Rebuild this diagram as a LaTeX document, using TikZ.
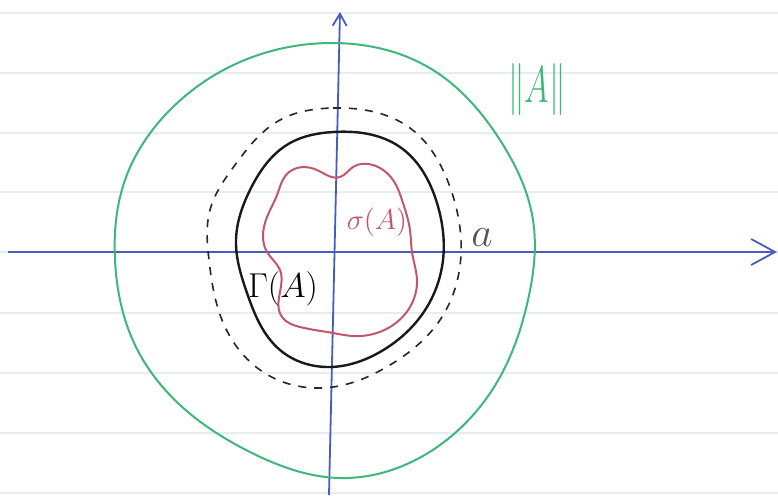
\documentclass[tikz,border=0pt]{standalone}
\usepackage{amsmath}
\usepackage{graphicx}
\usepackage{tikz}
\usetikzlibrary{arrows.meta, hobby}

\definecolor{axisblue}{HTML}{4A5BC0}
\definecolor{normgreen}{HTML}{3DB87A}
\definecolor{specred}{HTML}{C4566A}
\definecolor{ruled}{HTML}{E6EDF0}
\definecolor{inkgray}{HTML}{555555}

\begin{document}
\begin{tikzpicture}[x=0.5pt, y=-0.5pt,
      axis/.style={draw=axisblue, line width=0.9pt},
      ruleline/.style={draw=ruled, line width=0.8pt},
      curve/.style={line width=1.2pt, line join=round, use Hobby shortcut, closed=true},
      lbl/.style={inner sep=0pt}]
      \useasboundingbox[fill=white] (0,0) rectangle (778,495);

      % ruled paper
      \foreach \y in {13,73,133,192,252,313,373,433,493}
        \draw[ruleline] (0,\y) -- (778,\y);

      % axes
      \coordinate (xl) at (8,252);
      \coordinate (xr) at (777,252);
      \coordinate (yb) at (329,495);
      \coordinate (yt) at (340,12);
      \draw[axis, -{Straight Barb[length=12pt, width=13pt]}] (xl) -- (xr);
      \draw[axis, -{Straight Barb[length=6pt, width=7pt]}] (yb) -- (yt);

      % norm circle
      \draw[curve, normgreen, line width=1pt]
        (333,43) .. (433,70) .. (500,140) .. (533,220) .. (528,300) .. (500,377)
        .. (440,445) .. (340,478) .. (250,452) .. (180,405) .. (135,345)
        .. (115,260) .. (125,180) .. (167,113) .. (240,62);

      % dashed circle of radius a
      \draw[curve, black!85, line width=0.8pt, dash pattern=on 4pt off 4pt]
        (333,108) .. (410,128) .. (450,187) .. (461,255) .. (440,320) .. (390,365)
        .. (333,387) .. (263,372) .. (222,320) .. (209,260) .. (210,210)
        .. (235,165) .. (280,120);

      % contour Gamma
      \draw[curve, black!90]
        (333,132) .. (400,147) .. (437,203) .. (443,260) .. (427,307) .. (380,352)
        .. (330,367) .. (280,350) .. (247,293) .. (236,240) .. (250,190) .. (290,143);

      % spectrum
      \draw[curve, specred, line width=1pt]
        (288,173) .. (317,170) .. (340,177) .. (353,167) .. (373,165) .. (393,180)
        .. (403,203) .. (410,230) .. (412,252) .. (417,280) .. (410,307) .. (390,327)
        .. (353,336) .. (333,333) .. (300,327) .. (282,317) .. (280,270) .. (267,252)
        .. (263,237) .. (267,217) .. (277,195);

      % labels
      \node[lbl, text=normgreen] (norm) at (537,90) {\scalebox{0.8}[1.25]{\fontsize{20}{24}\selectfont $\|A\|$}};
      \node[lbl, text=specred] (spec) at (377,222) {\fontsize{15}{18}\selectfont $\sigma(A)$};
      \node[lbl, text=black] (gam) at (283,289) {\fontsize{16}{19}\selectfont $\Gamma(A)$};
      \node[lbl, text=inkgray] (rad) at (482,238) {\fontsize{22}{26}\selectfont $a$};
    \end{tikzpicture}
\end{document}
